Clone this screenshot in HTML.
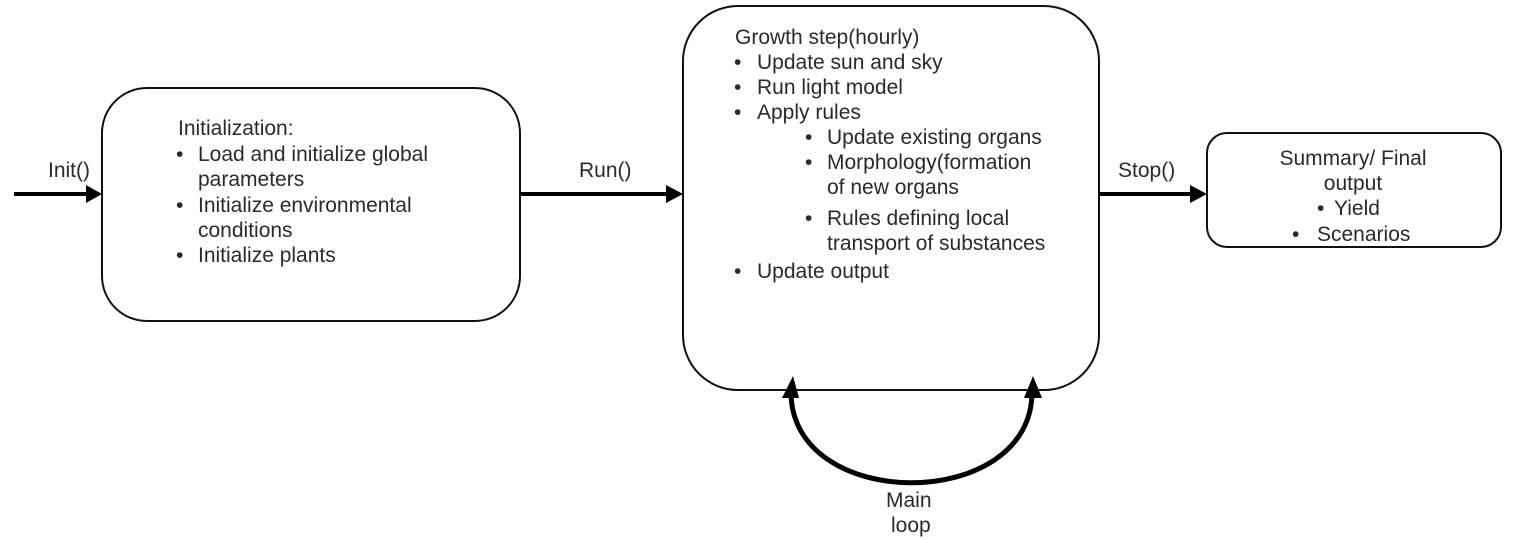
<!DOCTYPE html>
<html><head><meta charset="utf-8">
<style>
html,body{margin:0;padding:0;background:#fff;}
svg{display:block;}
text{font-family:"Liberation Sans",Arial,sans-serif;font-size:21px;fill:#2a2a2a;}
</style></head>
<body>
<svg width="1521" height="540" viewBox="0 0 1521 540" xmlns="http://www.w3.org/2000/svg">
<!-- boxes -->
<rect x="102" y="88" width="418" height="233" rx="45" ry="45" fill="#fff" stroke="#111" stroke-width="2"/>
<rect x="683" y="6" width="416" height="384" rx="55" ry="55" fill="#fff" stroke="#111" stroke-width="2"/>
<rect x="1207" y="133" width="294" height="114" rx="20" ry="20" fill="#fff" stroke="#111" stroke-width="2"/>

<!-- arrows -->
<line x1="14" y1="194" x2="88" y2="194" stroke="#000" stroke-width="4"/>
<polygon points="86,185 102,194 86,203" fill="#000"/>
<line x1="520" y1="194" x2="668" y2="194" stroke="#000" stroke-width="4"/>
<polygon points="666,185 683,194 666,203" fill="#000"/>
<line x1="1099" y1="194" x2="1192" y2="194" stroke="#000" stroke-width="4"/>
<polygon points="1190,185 1207,194 1190,203" fill="#000"/>

<!-- loop -->
<path d="M791,392 C791,513 1032,513 1032,392" fill="none" stroke="#000" stroke-width="5"/>
<polygon points="782,398 793,376 799,398" fill="#000"/>
<polygon points="1024,398 1033,376 1042,398" fill="#000"/>

<!-- labels -->
<text x="48" y="177">Init()</text>
<text x="579" y="177">Run()</text>
<text x="1118" y="177">Stop()</text>
<text x="886" y="507">Main</text>
<text x="891" y="532">loop</text>

<!-- box1 text -->
<text x="178" y="135">Initialization:</text>
<text x="176" y="161">•</text><text x="198" y="161">Load and initialize global</text>
<text x="198" y="186">parameters</text>
<text x="176" y="212">•</text><text x="198" y="212">Initialize environmental</text>
<text x="198" y="237">conditions</text>
<text x="176" y="262">•</text><text x="198" y="262">Initialize plants</text>

<!-- box2 text -->
<text x="735" y="44">Growth step(hourly)</text>
<text x="734" y="69">•</text><text x="757" y="69">Update sun and sky</text>
<text x="734" y="94">•</text><text x="757" y="94">Run light model</text>
<text x="734" y="119">•</text><text x="757" y="119">Apply rules</text>
<text x="805" y="144">•</text><text x="827" y="144">Update existing organs</text>
<text x="805" y="169">•</text><text x="827" y="169">Morphology(formation</text>
<text x="827" y="194">of new organs</text>
<text x="805" y="225">•</text><text x="827" y="225">Rules defining local</text>
<text x="827" y="250">transport of substances</text>
<text x="734" y="278">•</text><text x="757" y="278">Update output</text>

<!-- box3 text -->
<text x="1353" y="165" text-anchor="middle">Summary/ Final</text>
<text x="1353" y="190" text-anchor="middle">output</text>
<text x="1317" y="215">•</text><text x="1334" y="215">Yield</text>
<text x="1292" y="241">•</text><text x="1317" y="241">Scenarios</text>
</svg>
</body></html>
